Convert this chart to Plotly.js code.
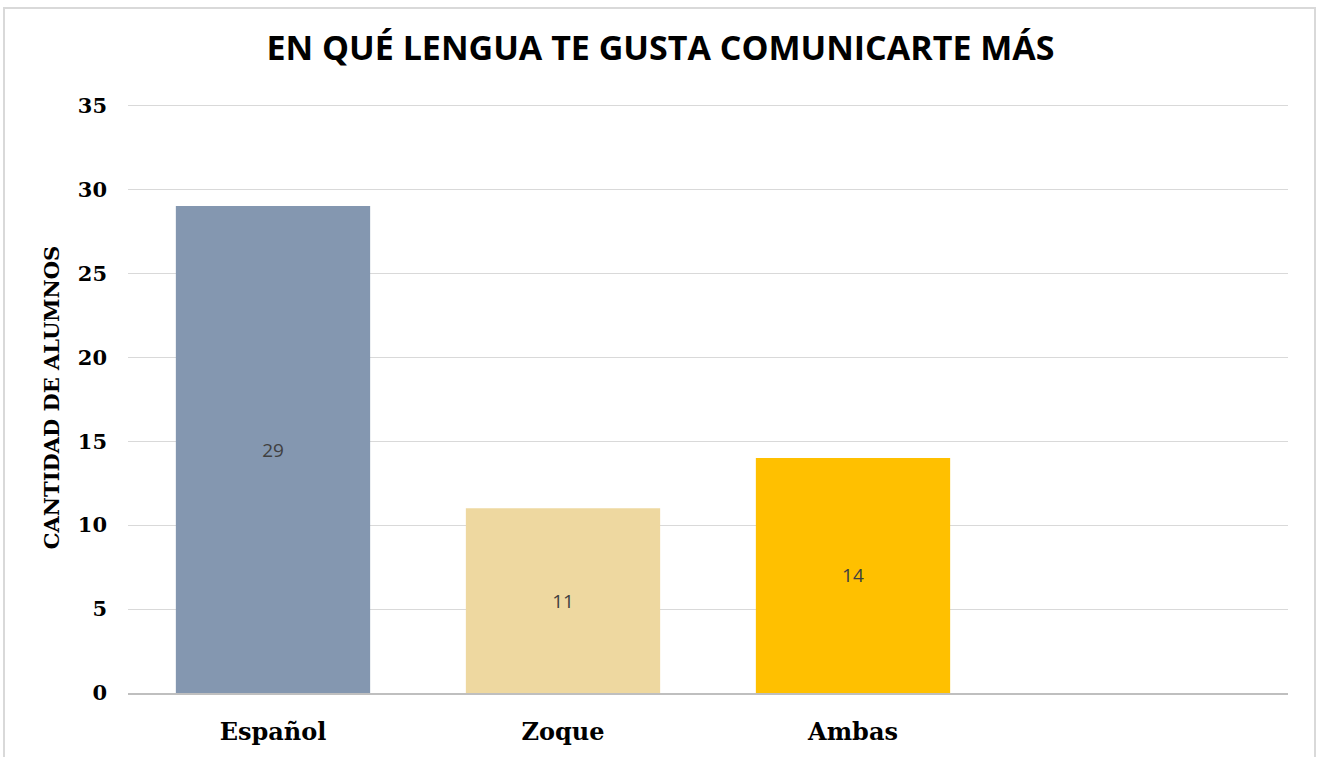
<!DOCTYPE html>
<html>
<head>
<meta charset="utf-8">
<script src="https://cdn.plot.ly/plotly-3.0.1.min.js"></script>
<style>
  body { margin: 0; background: #fff; }
  #frame { position: absolute; left: 3px; top: 7px; width: 1313px; height: 760px; border: 2px solid #d9d9d9; box-sizing: border-box; }
  #plot { position: absolute; left: 0; top: 0; width: 1321px; height: 757px; }
</style>
</head>
<body>
<div id="frame"></div>
<div id="plot"></div>
<script>
// datos de la gráfica
const categorias = ['Español', 'Zoque', 'Ambas'];
const alumnos = [29, 11, 14];
const colores = ['#8497b0', '#eed8a0', '#ffc000'];

const trace = {
    x: categorias,
    y: alumnos,
    type: 'bar',
    width: 0.67,
    marker: { color: colores },
    text: alumnos.map(String),
    textposition: 'inside',
    insidetextanchor: 'middle',
    textfont: { family: 'Open Sans', size: 19, color: '#404040' },
    hoverinfo: 'x+y'
};

const serif = 'DejaVu Serif';

const layout = {
    width: 1321,
    height: 757,
    margin: { l: 128, r: 33, t: 102, b: 64 },
    paper_bgcolor: 'rgba(0,0,0,0)',
    plot_bgcolor: 'rgba(0,0,0,0)',
    title: {
        text: '<b>EN QUÉ LENGUA TE GUSTA COMUNICARTE MÁS</b>',
        font: { family: 'Open Sans', size: 34, color: '#000' },
        x: 0.5,
        xanchor: 'center',
        y: 0.937,
        yanchor: 'middle'
    },
    xaxis: {
        type: 'category',
        range: [-0.5, 3.5],
        showgrid: false,
        showline: true,
        linecolor: '#bfbfbf',
        linewidth: 2,
        ticks: '',
        ticklabelstandoff: 16,
        tickfont: { family: serif, size: 24, color: '#000', weight: 'bold' }
    },
    yaxis: {
        range: [0, 35.2],
        tickvals: [0, 5, 10, 15, 20, 25, 30, 35],
        showgrid: true,
        gridcolor: '#d9d9d9',
        gridwidth: 1,
        zeroline: false,
        showline: false,
        ticks: '',
        ticklabelstandoff: 20,
        tickfont: { family: serif, size: 21, color: '#000', weight: 'bold' },
        title: {
            text: 'CANTIDAD DE ALUMNOS',
            font: { family: serif, size: 21, color: '#000', weight: 'bold' },
            standoff: 12
        }
    },
    showlegend: false
};

Plotly.newPlot('plot', [trace], layout, { displayModeBar: false, staticPlot: true });
</script>
</body>
</html>
